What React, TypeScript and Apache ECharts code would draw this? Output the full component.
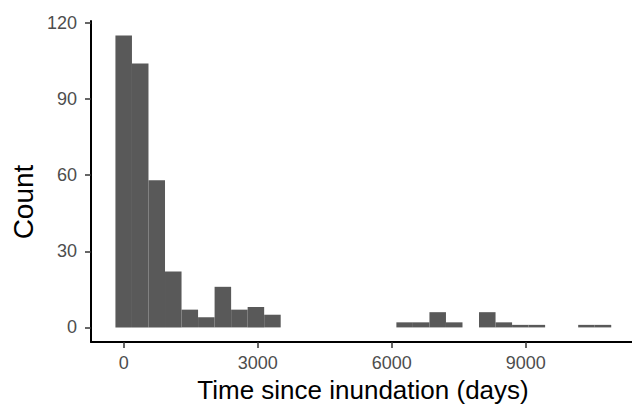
import React, { useEffect, useRef } from "react";
import * as echarts from "echarts";

const binWidth = 370;
const binCenters = [
  0, 370, 740, 1110, 1480, 1850, 2220, 2590, 2960, 3330,
  3700, 4070, 4440, 4810, 5180, 5550, 5920, 6290, 6660, 7030,
  7400, 7770, 8140, 8510, 8880, 9250, 9620, 9990, 10360, 10730,
];
const counts = [
  115, 104, 58, 22, 7, 4, 16, 7, 8, 5,
  0, 0, 0, 0, 0, 0, 0, 2, 2, 6,
  2, 0, 6, 2, 1, 1, 0, 0, 1, 1,
];
const xTicks = [0, 3000, 6000, 9000];
const yTicks = [0, 30, 60, 90, 120];

const FONT = "'Liberation Sans', Arial, sans-serif";

export default function App() {
  const ref = useRef<HTMLDivElement>(null);
  useEffect(() => {
    if (!ref.current) return;
    const chart = echarts.init(ref.current, null, { renderer: "svg" });
    const data = binCenters.map((c, i) => [c - binWidth / 2, c + binWidth / 2, counts[i]]);
    chart.setOption({
      animation: false,
      backgroundColor: "#ffffff",
      textStyle: { fontFamily: FONT },
      grid: { left: 91, right: 0, top: 21, bottom: 63, containLabel: false },
      xAxis: {
        type: "value",
        min: -732,
        max: 11380,
        splitLine: { show: false },
        axisLine: { show: true, onZero: false, lineStyle: { color: "#000", width: 2 } },
        axisTick: { show: true, length: 6, customValues: xTicks, lineStyle: { color: "#333", width: 1.5 } },
        axisLabel: {
          customValues: xTicks,
          formatter: (v: number) => String(v),
          color: "#4D4D4D",
          fontSize: 18,
          fontFamily: FONT,
          margin: 12,
        },
      },
      yAxis: {
        type: "value",
        min: -5.75,
        max: 120.75,
        splitLine: { show: false },
        axisLine: { show: true, onZero: false, lineStyle: { color: "#000", width: 2 } },
        axisTick: { show: true, length: 6, customValues: yTicks, lineStyle: { color: "#333", width: 1.5 } },
        axisLabel: {
          customValues: yTicks,
          formatter: (v: number) => String(v),
          color: "#4D4D4D",
          fontSize: 18,
          fontFamily: FONT,
          margin: 14,
        },
      },
      graphic: [
        {
          type: "text",
          x: 363,
          y: 390,
          style: {
            text: "Time since inundation (days)",
            fontSize: 26,
            fontFamily: FONT,
            fill: "#000",
            align: "center",
            verticalAlign: "middle",
          },
        },
        {
          type: "text",
          x: 23,
          y: 202,
          rotation: Math.PI / 2,
          style: {
            text: "Count",
            fontSize: 28,
            fontFamily: FONT,
            fill: "#000",
            align: "center",
            verticalAlign: "middle",
          },
        },
      ],
      series: [
        {
          type: "custom",
          data,
          encode: { x: [0, 1], y: 2 },
          renderItem: (params: any, api: any) => {
            const x0 = api.value(0);
            const x1 = api.value(1);
            const v = api.value(2);
            if (!v) return null;
            const p0 = api.coord([x0, v]);
            const p1 = api.coord([x1, 0]);
            return {
              type: "rect",
              shape: { x: p0[0], y: p0[1], width: p1[0] - p0[0], height: p1[1] - p0[1] },
              style: { fill: "#595959" },
            };
          },
        },
      ],
    });
    return () => chart.dispose();
  }, []);
  return (
    <div
      ref={ref}
      style={{ position: "absolute", left: 0, top: 0, width: 632, height: 405 }}
    />
  );
}
